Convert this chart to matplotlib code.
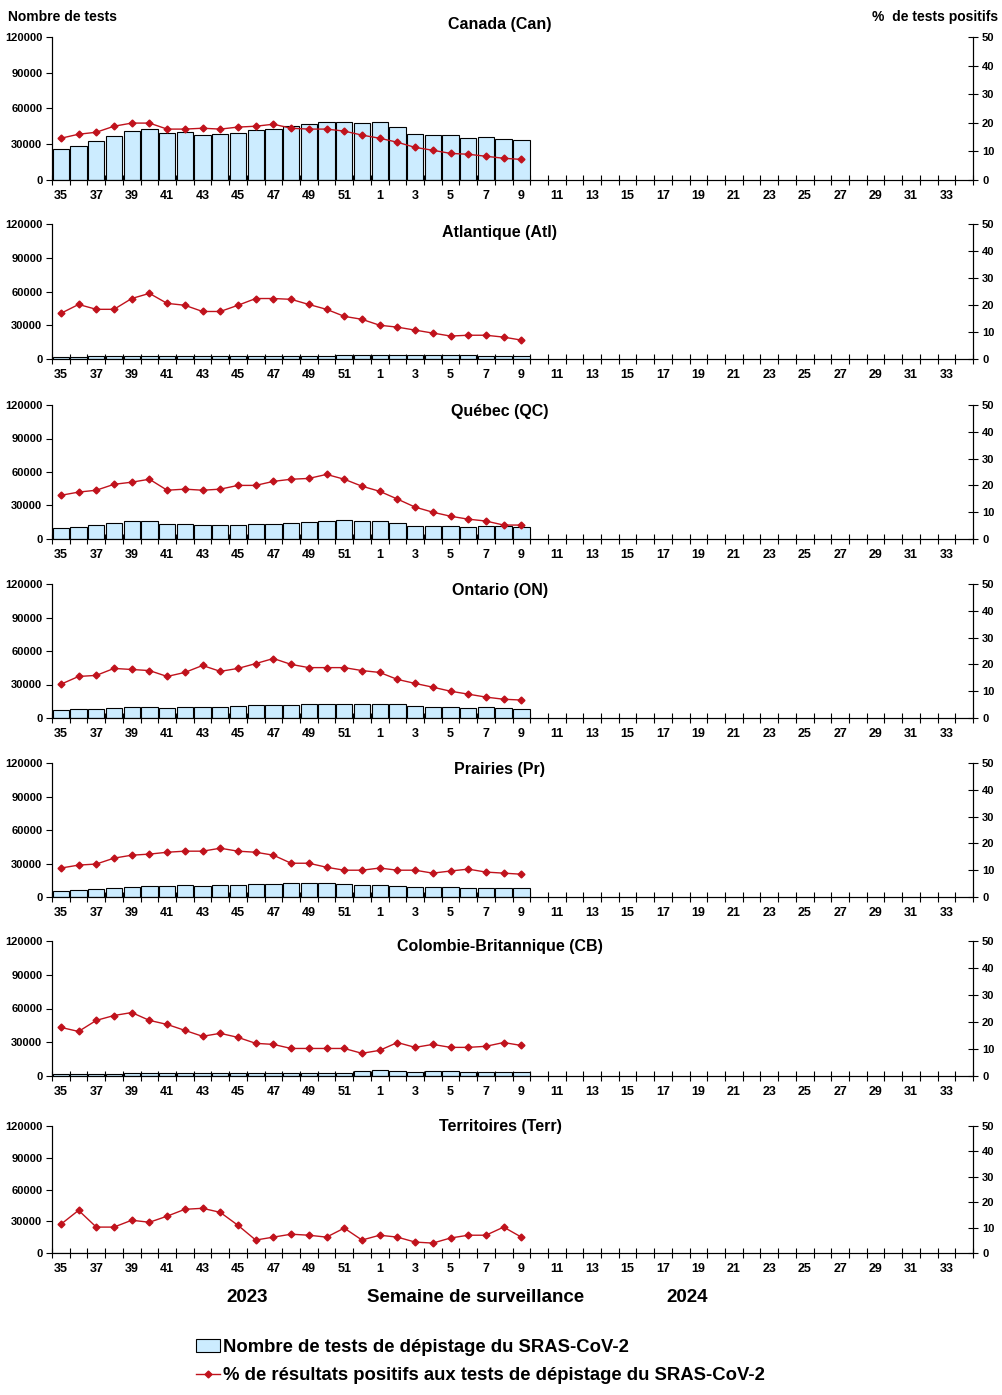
import matplotlib
matplotlib.use("Agg")
import matplotlib.pyplot as plt
from matplotlib.patches import Patch
from matplotlib.lines import Line2D

plt.rcParams['font.family'] = ['Liberation Sans', 'DejaVu Sans']

# semaines 35-52 (2023) puis 1-34 (2024)
weeks = list(range(35, 53)) + list(range(1, 35))
week_labels = [str(w) for w in weeks]

regions = ["Canada (Can)", "Atlantique (Atl)", "Québec (QC)", "Ontario (ON)",
           "Prairies (Pr)", "Colombie-Britannique (CB)", "Territoires (Terr)"]

can_tests = [25800, 28600, 32500, 36700, 40900, 42600, 39300, 40100, 37600, 38400, 39300, 41800, 42600, 45100,
             46800, 48500, 48500, 47700, 48500, 44300, 38400, 37600, 37600, 35000, 35900, 34200, 33400]
can_pct = [14.6, 16.0, 16.7, 18.8, 19.9, 19.9, 17.8, 17.8, 18.1, 17.8, 18.5, 18.8, 19.5, 18.1,
           17.8, 17.8, 17.1, 15.7, 14.6, 13.2, 11.4, 10.4, 9.3, 9.0, 8.3, 7.6, 7.2]

atl_tests = [1800, 1800, 2500, 2500, 2500, 3000, 3000, 3000, 2600, 2600, 2600, 2600, 3000, 3000,
             3000, 3000, 4000, 3200, 4000, 4000, 3200, 3200, 3200, 3200, 2700, 2700, 2700]
atl_pct = [16.9, 20.2, 18.4, 18.4, 22.4, 24.3, 20.6, 19.9, 17.6, 17.6, 19.9, 22.4, 22.4, 22.1,
           20.2, 18.4, 15.8, 14.7, 12.5, 11.8, 10.7, 9.6, 8.5, 8.8, 8.8, 8.1, 7.0]

qc_tests = [9800, 10700, 12500, 14300, 16000, 16000, 13400, 13400, 12500, 12500, 12500, 13400, 13400, 14300,
            15100, 16000, 16900, 16000, 16000, 14300, 11600, 11600, 11600, 10700, 11600, 11600, 10700]
qc_pct = [16.3, 17.5, 18.2, 20.4, 21.2, 22.3, 18.2, 18.6, 18.2, 18.6, 20.0, 20.0, 21.5, 22.3,
          22.6, 24.1, 22.3, 19.7, 17.8, 14.9, 11.9, 10.0, 8.5, 7.4, 6.7, 5.2, 5.2]

on_tests = [7100, 8000, 8000, 8900, 9800, 9800, 8900, 9800, 9800, 9800, 10600, 11500, 11500, 11500,
            12400, 12400, 12400, 12400, 12400, 12400, 10600, 9800, 9800, 8900, 9800, 8900, 8000]
on_pct = [12.6, 15.5, 15.9, 18.5, 18.1, 17.7, 15.5, 17.0, 19.6, 17.4, 18.5, 20.3, 22.2, 20.0,
          18.8, 18.8, 18.8, 17.7, 17.0, 14.4, 12.9, 11.5, 10.0, 8.9, 7.8, 7.0, 6.7]

pr_tests = [5300, 6200, 7100, 8000, 8900, 9800, 9800, 10700, 9800, 10700, 10700, 11600, 11600, 12500,
            12500, 12500, 11600, 10700, 10700, 9800, 8900, 8900, 8900, 8000, 8000, 8000, 8000]
pr_pct = [10.8, 11.9, 12.3, 14.5, 15.6, 16.0, 16.7, 17.1, 17.1, 18.2, 17.1, 16.7, 15.6, 12.6,
          12.6, 11.1, 10.0, 10.0, 10.8, 10.0, 10.0, 8.9, 9.7, 10.4, 9.3, 8.9, 8.5]

cb_tests = [2100, 2100, 2100, 2100, 3000, 3000, 3000, 3000, 2400, 3000, 3000, 2400, 2400, 3000,
            3000, 3000, 3000, 4100, 5000, 4100, 3200, 4100, 4100, 3200, 3200, 3200, 3200]
cb_pct = [18.0, 16.5, 20.6, 22.4, 23.5, 20.6, 19.1, 16.9, 14.7, 15.8, 14.3, 12.1, 11.7, 10.2,
          10.2, 10.2, 10.2, 8.4, 9.5, 12.4, 10.6, 11.7, 10.6, 10.6, 11.0, 12.4, 11.3]

terr_tests = [400, 450, 400, 400, 450, 450, 400, 450, 450, 450, 400, 400, 400, 400,
              400, 400, 400, 350, 450, 450, 400, 400, 400, 400, 400, 400, 350]
terr_pct = [11.3, 16.8, 10.2, 10.2, 12.9, 12.1, 14.5, 17.2, 17.6, 16.0, 10.9, 5.1, 6.25, 7.4,
            7.0, 6.25, 9.8, 5.1, 7.0, 6.25, 4.3, 3.9, 5.9, 7.0, 7.0, 10.2, 6.25]

tests = [can_tests, atl_tests, qc_tests, on_tests, pr_tests, cb_tests, terr_tests]
pcts = [can_pct, atl_pct, qc_pct, on_pct, pr_pct, cb_pct, terr_pct]

# positions des axes en pixels (haut, bas)
boxes = [(37, 180), (224, 359), (405, 539), (584, 718), (763, 897), (941, 1076), (1126, 1253)]
title_y = [24, 233, 411, 590, 769, 947, 1126]

W, H = 1002, 1395
fig = plt.figure(figsize=(W / 100, H / 100), dpi=100)

bar_col = '#CCECFF'
line_col = '#C0121C'
x_all = list(range(len(weeks)))

for i in range(7):
    top, bot = boxes[i]
    ax = fig.add_axes([52 / W, 1 - bot / H, (973 - 52) / W, (bot - top) / H])
    n = len(tests[i])
    ax.bar(x_all[:n], tests[i], width=0.92, color=bar_col, edgecolor='black', linewidth=0.8, zorder=2)
    ax.set_xlim(-0.5, len(weeks) - 0.5)
    ax.set_ylim(0, 120000)
    ax.set_yticks([0, 30000, 60000, 90000, 120000])
    ax.tick_params(axis='y', direction='out', length=4, labelsize=8, pad=3)
    for lab in ax.get_yticklabels():
        lab.set_fontweight('bold')
    ax.set_xticks([k - 0.5 for k in range(len(weeks) + 1)])
    ax.set_xticklabels([])
    ax.tick_params(axis='x', which='major', direction='inout', length=7)
    ax.set_xticks(x_all[::2], minor=True)
    ax.set_xticklabels(week_labels[::2], minor=True, fontsize=9, fontweight='bold')
    ax.tick_params(axis='x', which='minor', length=0, pad=7)
    ax.spines['top'].set_visible(False)

    ax2 = ax.twinx()
    ax2.plot(x_all[:n], pcts[i], color=line_col, lw=1, marker='D', ms=3.5, zorder=3)
    ax2.set_ylim(0, 50)
    ax2.set_yticks([0, 10, 20, 30, 40, 50])
    ax2.tick_params(axis='y', direction='inout', length=7, labelsize=8, pad=3)
    for lab in ax2.get_yticklabels():
        lab.set_fontweight('bold')
    ax2.spines['top'].set_visible(False)

    fig.text(500 / W, 1 - title_y[i] / H, regions[i], ha='center', va='center',
             fontsize=11.5, fontweight='bold')

fig.text(8 / W, 1 - 17 / H, "Nombre de tests", ha='left', va='center', fontsize=10, fontweight='bold')
fig.text(998 / W, 1 - 17 / H, "%  de tests positifs", ha='right', va='center', fontsize=10, fontweight='bold')

fig.text(247 / W, 1 - 1297 / H, "2023", ha='center', va='center', fontsize=13.5, fontweight='bold')
fig.text(476 / W, 1 - 1297 / H, "Semaine de surveillance", ha='center', va='center', fontsize=13.5, fontweight='bold')
fig.text(687 / W, 1 - 1297 / H, "2024", ha='center', va='center', fontsize=13.5, fontweight='bold')

handles = [Patch(facecolor=bar_col, edgecolor='black', linewidth=0.8),
           Line2D([0], [0], color=line_col, lw=1, marker='D', ms=3.5)]
labels = ["Nombre de tests de dépistage du SRAS-CoV-2",
          "% de résultats positifs aux tests de dépistage du SRAS-CoV-2"]
fig.legend(handles, labels, loc='upper left', bbox_to_anchor=(187 / W, 1 - 1330 / H), frameon=False,
           prop={'size': 13.3, 'weight': 'bold'}, handlelength=1.3, handletextpad=0.15, labelspacing=0.6,
           borderpad=0)

fig.savefig("out.png", dpi=100)
